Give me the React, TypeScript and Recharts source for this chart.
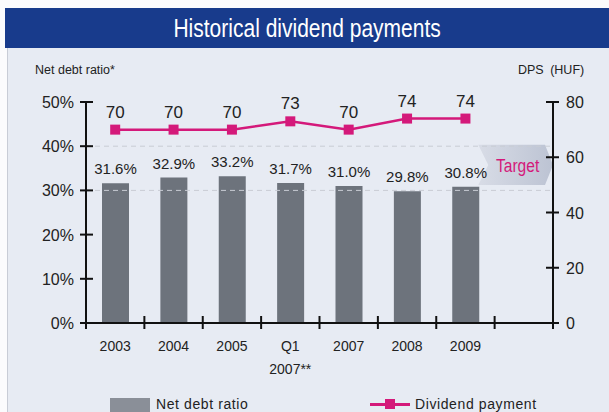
import React from 'react'
import {
  ComposedChart,
  Bar,
  Line,
  XAxis,
  YAxis,
  LabelList,
  ReferenceLine,
  ReferenceArea,
} from 'recharts'

const years = ['2003', '2004', '2005', 'Q1|2007**', '2007', '2008', '2009', '']
const netDebtRatio = [31.6, 32.9, 33.2, 31.7, 31.0, 29.8, 30.8, null]
const dividend = [70, 70, 70, 73, 70, 74, 74, null]
const leftTicks = [0, 10, 20, 30, 40, 50]
const rightTicks = [0, 20, 40, 60, 80]
const gridLevels = [30, 40]
const targetRange = { from: 31.2, to: 40.3 }

const data = years.map((year, i) => ({
  year,
  ratio: netDebtRatio[i],
  dps: dividend[i],
}))

const FONT = '"Liberation Sans", Arial, sans-serif'
const MAGENTA = '#d4197a'
const BAR = '#6d737c'
const BAND = (609 - 86 - 56) / years.length

const LeftTick = (props: any) => {
  const { x, y, payload } = props
  return (
    <g>
      <line x1={x - 6} x2={x + 7} y1={y} y2={y} stroke="#111" strokeWidth={2} />
      <text x={x - 12} y={y + 6} textAnchor="end" fontSize={16} fill="#222" fontFamily={FONT}>
        {payload.value}%
      </text>
    </g>
  )
}

const RightTick = (props: any) => {
  const { x, y, payload } = props
  return (
    <g>
      <line x1={x - 7} x2={x + 6} y1={y} y2={y} stroke="#111" strokeWidth={2} />
      <text x={x + 13} y={y + 6} textAnchor="start" fontSize={16} fill="#222" fontFamily={FONT}>
        {payload.value}
      </text>
    </g>
  )
}

const BottomTick = (props: any) => {
  const { x, y, payload, index } = props
  const lines = String(payload.value).split('|')
  return (
    <g>
      <line x1={x - BAND / 2} x2={x - BAND / 2} y1={y - 7} y2={y + 6} stroke="#111" strokeWidth={2} />
      {index === years.length - 1 && (
        <line x1={x + BAND / 2} x2={x + BAND / 2} y1={y - 7} y2={y + 6} stroke="#111" strokeWidth={2} />
      )}
      {lines.map((l, i) => (
        <text key={i} x={x} y={y + 28 + i * 23} textAnchor="middle" fontSize={14} fill="#222" fontFamily={FONT}>
          {l}
        </text>
      ))}
    </g>
  )
}

const Chevron = (props: any) => {
  const { x, y, width, height } = props
  const tip = 8
  const notch = 10
  const pts = [
    [x, y],
    [x + width - tip, y],
    [x + width, y + height / 2],
    [x + width - tip, y + height],
    [x, y + height],
    [x + notch, y + height / 2],
  ]
  return (
    <g>
      <defs>
        <linearGradient id="bandGrad" x1="0" y1="0" x2="1" y2="0">
          <stop offset="0%" stopColor="#d8dce6" />
          <stop offset="100%" stopColor="#bcc3d3" />
        </linearGradient>
      </defs>
      <polygon points={pts.map((p) => p.join(',')).join(' ')} fill="url(#bandGrad)" />
      <text
        x={x + width / 2 + 2}
        y={y + height / 2 + 7}
        textAnchor="middle"
        fontSize={19}
        fill={MAGENTA}
        fontFamily={FONT}
        transform={`translate(${x + width / 2 + 2} 0) scale(0.82 1) translate(${-(x + width / 2 + 2)} 0)`}
      >
        Target
      </text>
    </g>
  )
}

const SquareDot = (props: any) => {
  const { cx, cy } = props
  if (cx == null || cy == null) return null
  return <rect x={cx - 5} y={cy - 5} width={10} height={10} fill={MAGENTA} />
}

const App: React.FC = () => {
  return (
    <div style={{ position: 'fixed', left: 0, top: 0, width: 609, height: 412, background: '#fbfbfd', overflow: 'hidden', fontFamily: FONT }}>
      <div style={{ position: 'absolute', left: 7, top: 8, width: 602, height: 404, background: '#e7ebf3', borderLeft: '1px solid #c8ccd6' }} />
      <div
        style={{
          position: 'absolute',
          left: 5,
          top: 8,
          width: 604,
          height: 40,
          background: '#183b8c',
          color: '#fff',
          textAlign: 'center',
          lineHeight: '40px',
          fontSize: 25,
        }}
      >
        <span style={{ display: 'inline-block', transform: 'scaleX(0.84)' }}>Historical dividend payments</span>
      </div>
      <div style={{ position: 'absolute', left: 35, top: 63, fontSize: 12.5, color: '#222' }}>Net debt ratio*</div>
      <div style={{ position: 'absolute', left: 518, top: 63, fontSize: 12.5, color: '#222', wordSpacing: 3 }}>DPS (HUF)</div>

      <div style={{ position: 'absolute', left: 0, top: 0 }}>
        <ComposedChart width={609} height={380} data={data} margin={{ top: 102, right: 16, bottom: 17, left: 46 }}>
          <XAxis
            dataKey="year"
            interval={0}
            tickSize={0}
            tickMargin={0}
            tick={<BottomTick />}
            height={40}
            axisLine={{ stroke: '#111', strokeWidth: 2 }}
          />
          <YAxis
            yAxisId="left"
            domain={[0, 50]}
            ticks={leftTicks}
            width={40}
            tickSize={0}
            tickMargin={0}
            tick={<LeftTick />}
            axisLine={{ stroke: '#111', strokeWidth: 2 }}
          />
          <YAxis
            yAxisId="right"
            orientation="right"
            domain={[0, 80]}
            ticks={rightTicks}
            width={40}
            tickSize={0}
            tickMargin={0}
            tick={<RightTick />}
            axisLine={{ stroke: '#111', strokeWidth: 2 }}
          />
          <ReferenceArea
            yAxisId="left"
            x1="2009"
            x2=""
            y1={targetRange.from}
            y2={targetRange.to}
            shape={(p: any) => {
              const start = p.x + BAND * 0.72
              return <Chevron {...p} x={start} width={p.x + p.width - start} />
            }}
          />
          <Bar yAxisId="left" dataKey="ratio" fill={BAR} barSize={27} isAnimationActive={false}>
            <LabelList dataKey="ratio" position="top" offset={9} formatter={(v: any) => (v == null ? '' : `${v.toFixed(1)}%`)} style={{ fontSize: 15, fill: '#222', fontFamily: FONT }} />
          </Bar>
          {gridLevels.map((g) => (
            <ReferenceLine key={g} yAxisId="left" y={g} stroke="#c9ccd4" strokeDasharray="5 4" />
          ))}
          <Line
            yAxisId="right"
            dataKey="dps"
            stroke={MAGENTA}
            strokeWidth={2.5}
            dot={<SquareDot />}
            activeDot={false}
            isAnimationActive={false}
          >
            <LabelList dataKey="dps" position="top" offset={12} style={{ fontSize: 17, fill: '#222', fontFamily: FONT }} />
          </Line>
        </ComposedChart>
      </div>

      <div style={{ position: 'absolute', left: 110, top: 398, width: 40, height: 14, background: '#8a8f98' }} />
      <div style={{ position: 'absolute', left: 156, top: 396, fontSize: 14, letterSpacing: 0.6, color: '#222' }}>Net debt ratio</div>
      <div style={{ position: 'absolute', left: 370, top: 403, width: 40, height: 3, background: MAGENTA }} />
      <div style={{ position: 'absolute', left: 385, top: 399, width: 10, height: 10, background: MAGENTA }} />
      <div style={{ position: 'absolute', left: 415, top: 396, fontSize: 14, letterSpacing: 0.6, color: '#222' }}>Dividend payment</div>
    </div>
  )
}

export default App
